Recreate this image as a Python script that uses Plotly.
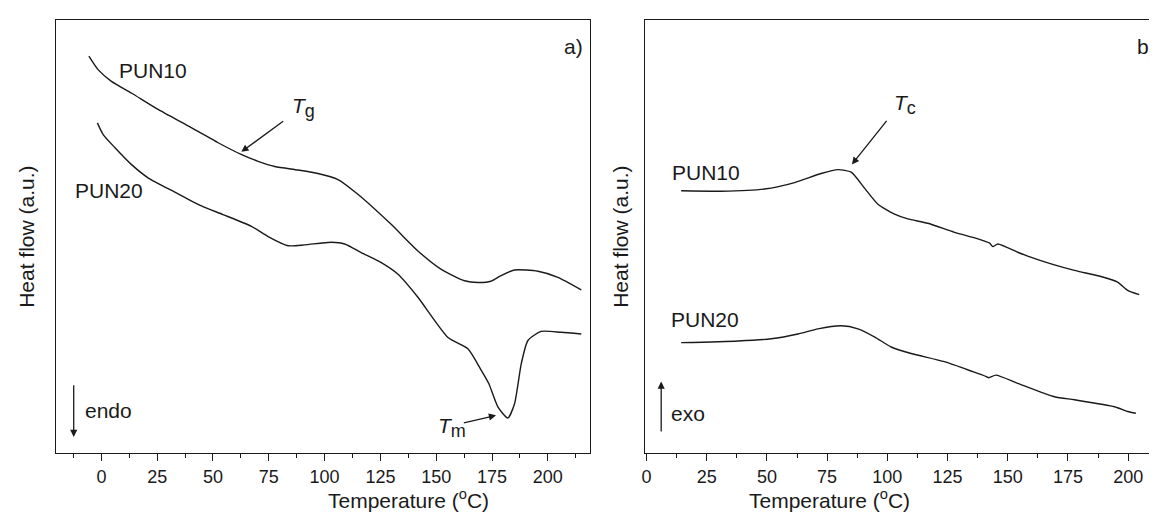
import plotly.graph_objects as go

# Daten: DSC-Kurven (y in willkürlichen Einheiten)

# a) Heizkurven
a_x_pun10 = [-5.6, -1.5, 4.5, 13.4, 25.4, 38.8, 52.3, 62.6, 70.2, 77.7, 88.1, 97.0,
             106.0, 114.9, 129.7, 141.8, 152.1, 162.7, 168.7, 174.5, 179.0, 185.1,
             195.6, 204.5, 215.0]
a_y_pun10 = [91.7, 88.6, 85.9, 83.2, 79.4, 75.6, 71.7, 69.0, 67.4, 66.2, 65.4, 64.6,
             63.2, 59.8, 52.9, 46.7, 42.5, 39.8, 39.4, 39.7, 41.0, 42.3,
             42.0, 40.6, 37.7]

a_x_pun20 = [-1.8, 0.8, 6.0, 13.4, 20.9, 32.9, 44.8, 54.5, 67.2, 74.7, 83.6, 91.1,
             103.0, 109.0, 116.4, 125.4, 132.9, 141.8, 155.3, 164.2, 170.2, 173.6,
             177.7, 182.1, 185.1, 188.1, 191.1, 197.0, 206.0, 215.0]
a_y_pun20 = [76.3, 73.6, 70.6, 66.7, 63.6, 60.3, 57.1, 55.1, 52.4, 50.0, 47.9, 48.1,
             48.7, 48.3, 46.3, 44.0, 41.3, 36.0, 26.7, 24.1, 19.1, 16.0,
             10.6, 8.1, 11.4, 20.6, 26.0, 28.1, 27.9, 27.5]

# b) Kühlkurven
b_x_pun10 = [14.4, 31.0, 49.0, 61.5, 72.5, 79.5, 85.0, 90.7, 96.1, 103.0, 108.5,
             116.8, 127.9, 137.6, 142.5, 143.8, 145.9, 154.1, 158.3, 168.0, 177.7,
             188.7, 195.6, 199.8, 204.6]
b_y_pun10 = [60.6, 60.5, 61.0, 62.5, 64.6, 65.5, 64.9, 61.1, 57.5, 55.2, 54.1,
             53.1, 51.0, 49.5, 48.5, 47.7, 48.3, 46.4, 45.5, 43.7, 42.2,
             40.8, 39.5, 37.6, 36.6]

b_x_pun20 = [14.4, 38.0, 51.8, 62.9, 71.2, 80.8, 87.8, 94.8, 101.6, 109.9, 123.7,
             135.5, 140.9, 142.1, 145.1, 154.1, 169.4, 177.7, 194.3, 199.8, 203.2]
b_y_pun20 = [25.5, 25.9, 26.4, 27.5, 28.7, 29.4, 28.7, 26.8, 24.5, 23.0, 21.1,
             18.8, 17.7, 17.4, 18.0, 16.1, 13.0, 12.3, 10.7, 9.6, 9.2]

x_ticks = [0, 25, 50, 75, 100, 125, 150, 175, 200]

W, H = 1157, 512
FONT = "Arial, Liberation Sans, sans-serif"
INK = "#1a1a1a"


def px(x):
    return x / W


def py(y):
    return (H - y) / H


curve = dict(color=INK, width=1.4, shape="spline", smoothing=0.6)

fig = go.Figure()
fig.add_trace(go.Scatter(x=a_x_pun10, y=a_y_pun10, mode="lines", line=curve,
                         xaxis="x", yaxis="y", name="PUN10"))
fig.add_trace(go.Scatter(x=a_x_pun20, y=a_y_pun20, mode="lines", line=curve,
                         xaxis="x", yaxis="y", name="PUN20"))
fig.add_trace(go.Scatter(x=b_x_pun10, y=b_y_pun10, mode="lines", line=curve,
                         xaxis="x2", yaxis="y2", name="PUN10"))
fig.add_trace(go.Scatter(x=b_x_pun20, y=b_y_pun20, mode="lines", line=curve,
                         xaxis="x2", yaxis="y2", name="PUN20"))

ydom = [py(445), py(12.3)]

xaxis_common = dict(
    tickvals=x_ticks, ticks="outside", ticklen=7, tickwidth=1.2, tickcolor=INK,
    minor=dict(dtick=12.5, tick0=0, ticks="outside", ticklen=4, tickwidth=1.2,
               tickcolor=INK),
    showline=True, linecolor=INK, linewidth=1.4, showgrid=False, zeroline=False,
    tickfont=dict(family=FONT, size=18, color=INK),
    automargin=False,
)
yaxis_common = dict(
    range=[0, 100], showticklabels=False, ticks="", showline=True, linecolor=INK,
    linewidth=1.4, showgrid=False, zeroline=False, domain=ydom,
    automargin=False,
)
ytitle_font = dict(family=FONT, size=21, color=INK)

fig.update_layout(
    width=W, height=H,
    margin=dict(l=0, r=0, t=0, b=0),
    paper_bgcolor="white", plot_bgcolor="white",
    showlegend=False,
    xaxis=dict(xaxis_common, domain=[px(48.3), px(582)], range=[-20.2, 218.9],
               mirror=True, anchor="y"),
    yaxis=dict(yaxis_common, mirror=True, anchor="x",
               title=dict(text="Heat flow (a.u.)", standoff=14, font=ytitle_font)),
    xaxis2=dict(xaxis_common, domain=[px(637.3), 1.0], range=[-0.5, 215.3],
                mirror=True, anchor="y2"),
    yaxis2=dict(yaxis_common, mirror=False, anchor="x2",
                title=dict(text="Heat flow (a.u.)", standoff=9, font=ytitle_font)),
)

txt = dict(family=FONT, size=21, color=INK)
xtitle = "Temperature (<sup>o</sup>C)"
notes = [
    # Achsentitel x
    dict(xref="paper", yref="paper", x=px(318), y=py(505.5), text=xtitle,
         font=dict(family=FONT, size=21, color=INK)),
    dict(xref="paper", yref="paper", x=px(904), y=py(505.5), text=xtitle,
         font=dict(family=FONT, size=21, color=INK)),
    # Kurvenbeschriftungen
    dict(xref="x", yref="y", x=22.9, y=88.3, text="PUN10"),
    dict(xref="x", yref="y", x=3.4, y=60.7, text="PUN20"),
    dict(xref="x2", yref="y2", x=24.5, y=64.8, text="PUN10"),
    dict(xref="x2", yref="y2", x=24.1, y=30.8, text="PUN20"),
    dict(xref="x", yref="y", x=3.0, y=9.8, text="endo"),
    dict(xref="x2", yref="y2", x=17.4, y=9.2, text="exo"),
    # Panel-Kennzeichnung
    dict(xref="paper", yref="paper", x=px(565), y=py(25), text="a)"),
    dict(xref="paper", yref="paper", x=px(1150), y=py(25), text="b)"),
    # Übergangstemperaturen
    dict(xref="x", yref="y", x=84.5, y=79.8, xanchor="left",
         text="<i>T</i><sub><span style='font-size:18px'>g</span></sub>"),
    dict(xref="x2", yref="y2", x=101.9, y=80.6, xanchor="left",
         text="<i>T</i><sub><span style='font-size:18px'>c</span></sub>"),
    dict(xref="x", yref="y", x=149.9, y=6.0, xanchor="left",
         text="<i>T</i><sub><span style='font-size:18px'>m</span></sub>"),
]
for n in notes:
    n.setdefault("font", txt)
    fig.add_annotation(showarrow=False, **n)

# Pfeile (Spitze -> Ende)
arrows = [
    ("x", "y", 62.7, 69.6, 82.1, 76.9),
    ("x2", "y2", 85.3, 66.7, 100.2, 77.1),
    ("x", "y", 176.8, 8.7, 161.7, 6.9),
    ("x", "y", -12.4, 3.7, -12.4, 16.0),
    ("x2", "y2", 6.1, 16.5, 6.1, 4.6),
]
for xr, yr, x0, y0, x1, y1 in arrows:
    fig.add_annotation(xref=xr, yref=yr, axref=xr, ayref=yr, x=x0, y=y0, ax=x1, ay=y1,
                       text="", showarrow=True, arrowhead=2, arrowsize=1.1,
                       arrowwidth=1.3, arrowcolor=INK)

fig.write_html("out.html")
